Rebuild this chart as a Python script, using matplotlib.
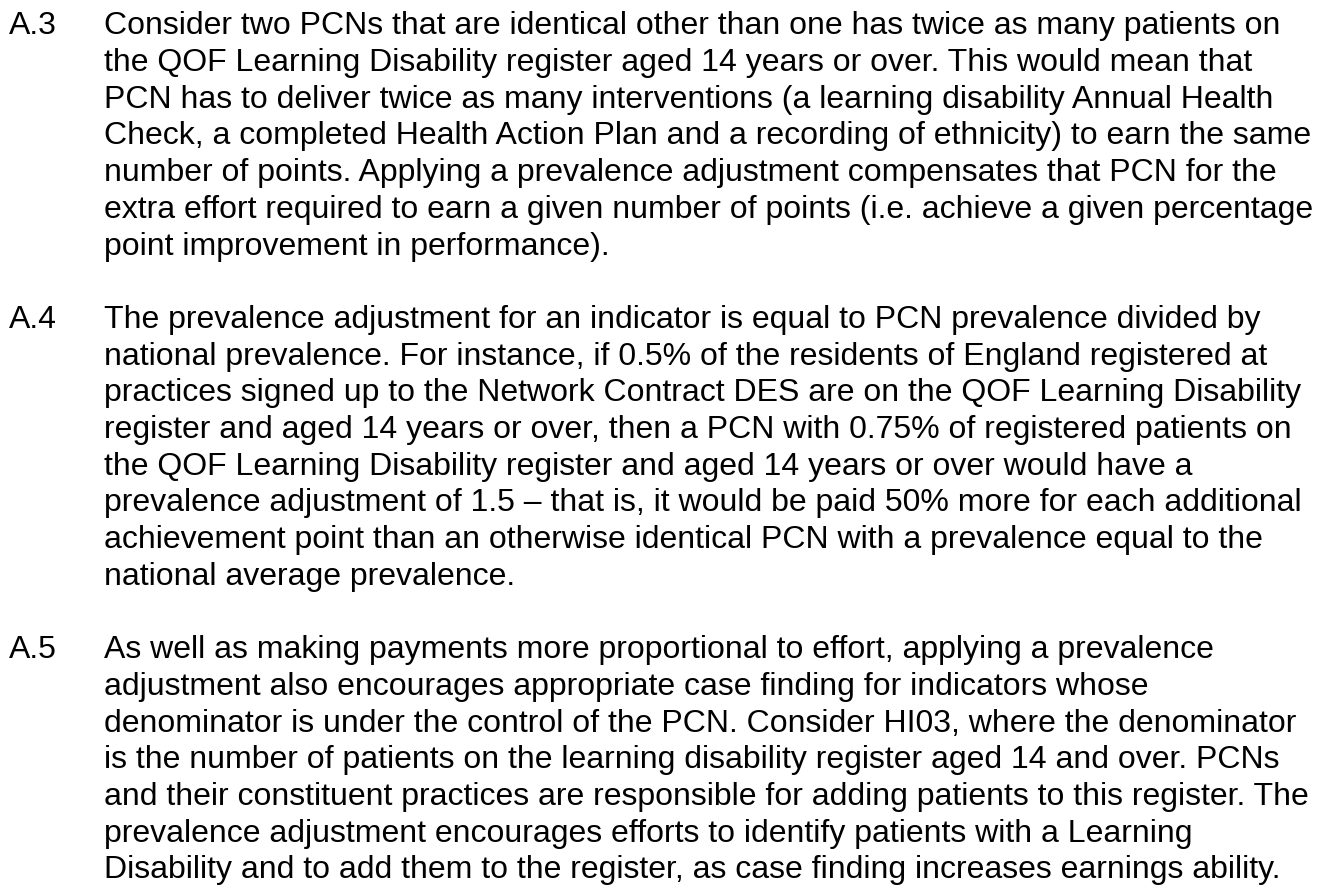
import matplotlib
matplotlib.use('Agg')
import matplotlib.pyplot as plt

# paragraph numbers and their wrapped lines (as in the reference)
labels = ['A.3', 'A.4', 'A.5']

para_a3 = [
    'Consider two PCNs that are identical other than one has twice as many patients on',
    'the QOF Learning Disability register aged 14 years or over. This would mean that',
    'PCN has to deliver twice as many interventions (a learning disability Annual Health',
    'Check, a completed Health Action Plan and a recording of ethnicity) to earn the same',
    'number of points. Applying a prevalence adjustment compensates that PCN for the',
    'extra effort required to earn a given number of points (i.e. achieve a given percentage',
    'point improvement in performance).',
]

para_a4 = [
    'The prevalence adjustment for an indicator is equal to PCN prevalence divided by',
    'national prevalence. For instance, if 0.5% of the residents of England registered at',
    'practices signed up to the Network Contract DES are on the QOF Learning Disability',
    'register and aged 14 years or over, then a PCN with 0.75% of registered patients on',
    'the QOF Learning Disability register and aged 14 years or over would have a',
    'prevalence adjustment of 1.5 \u2013 that is, it would be paid 50% more for each additional',
    'achievement point than an otherwise identical PCN with a prevalence equal to the',
    'national average prevalence.',
]

para_a5 = [
    'As well as making payments more proportional to effort, applying a prevalence',
    'adjustment also encourages appropriate case finding for indicators whose',
    'denominator is under the control of the PCN. Consider HI03, where the denominator',
    'is the number of patients on the learning disability register aged 14 and over. PCNs',
    'and their constituent practices are responsible for adding patients to this register. The',
    'prevalence adjustment encourages efforts to identify patients with a Learning',
    'Disability and to add them to the register, as case finding increases earnings ability.',
]

paragraphs = [para_a3, para_a4, para_a5]

W, H = 1326, 888
fig = plt.figure(figsize=(W / 100, H / 100), dpi=100)
fig.patch.set_facecolor('white')

first_baseline = 34.3   # px from top
line_step = 36.7        # px
label_x = 9
body_x = 104
fsize = 23.0

n = 0
for lab, lines in zip(labels, paragraphs):
    y = H - (first_baseline + n * line_step)
    fig.text(label_x / W, y / H, lab, fontsize=fsize, family='Liberation Sans',
             va='baseline', ha='left', color='black')
    for line in lines:
        y = H - (first_baseline + n * line_step)
        fig.text(body_x / W, y / H, line, fontsize=fsize, family='Liberation Sans',
                 va='baseline', ha='left', color='black')
        n += 1
    n += 1  # blank line between paragraphs

plt.savefig('out.png', dpi=100)
